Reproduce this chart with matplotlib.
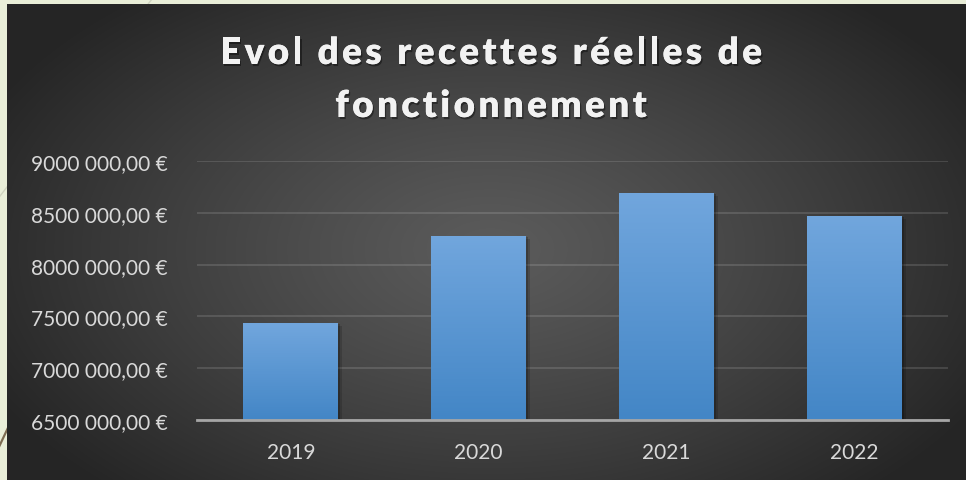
import numpy as np
import matplotlib
matplotlib.use('Agg')
import matplotlib.pyplot as plt
import matplotlib.patheffects as pe
from matplotlib.transforms import IdentityTransform
from matplotlib.font_manager import FontProperties

# data
years = ['2019', '2020', '2021', '2022']
recettes = [7436000, 8276000, 8691000, 8469000]
y_ticks = [6500000, 7000000, 7500000, 8000000, 8500000, 9000000]
title_lines = ['Evol des recettes réelles de', 'fonctionnement']

W, H = 966, 481
fig = plt.figure(figsize=(W / 100, H / 100), dpi=100, facecolor='#e9eed8')

# slide background: decorative lines + dark panel with radial gradient
bg = fig.add_axes([0, 0, 1, 1])
bg.axis('off')
bg.plot([152, -10], [0, 210], color='#cfd3bf', lw=1)
bg.plot([-2, 14], [450, 416], color='#7d6c52', lw=1.6)
yy, xx = np.mgrid[5:H, 7:W]
r = np.sqrt(((xx - 490) / 560.0) ** 2 + ((yy - 250) / 330.0) ** 2)
r = np.clip(r, 0, 1) ** 1.2
c_in = np.array([0x5b, 0x5b, 0x5b]) / 255
c_out = np.array([0x25, 0x25, 0x25]) / 255
panel = c_in + (c_out - c_in) * r[..., None]
bg.imshow(panel, extent=(7, W, H, 5), aspect='auto', zorder=2)
bg.set_xlim(0, W)
bg.set_ylim(H, 0)

# chart
ax = fig.add_axes([197 / W, (H - 421) / H, (948 - 197) / W, (421 - 162) / H])
ax.patch.set_alpha(0)
x = np.arange(len(years))
bars = ax.bar(x, recettes, width=0.505, color='#5b9bd5', zorder=3,
              path_effects=[pe.SimplePatchShadow(offset=(3, -2), shadow_rgbFace='black', alpha=0.15),
                            pe.SimplePatchShadow(offset=(1.5, -1), shadow_rgbFace='black', alpha=0.2),
                            pe.Normal()])

grad = np.linspace(0, 1, 100)[:, None]
top_c = np.array([0x71, 0xa6, 0xdd]) / 255
bot_c = np.array([0x43, 0x86, 0xc6]) / 255
grad_img = top_c + (bot_c - top_c) * grad[..., None]
for b in bars:
    x0 = b.get_x()
    im = ax.imshow(grad_img, extent=(x0, x0 + b.get_width(), 6500000, b.get_height()),
                   aspect='auto', zorder=4)
    im.set_clip_path(b)

ax.set_xlim(-0.5, 3.5)
ax.set_ylim(6500000, 9000000)
ax.set_xticks(x)
ax.set_xticklabels(years)
ax.set_yticks(y_ticks)
ax.set_yticklabels([f"{v // 1000} {v % 1000:03d},00 €" for v in y_ticks])
lab_font = FontProperties(family='Lato', size=15)
for t in ax.get_xticklabels() + ax.get_yticklabels():
    t.set_fontproperties(lab_font)
    t.set_color('#d9d9d9')
ax.tick_params(axis='y', length=0, pad=21)
ax.tick_params(axis='x', length=0, pad=16)
ax.grid(axis='y', color='white', alpha=0.13, lw=1.4, zorder=0)
for s in ['top', 'right', 'left']:
    ax.spines[s].set_visible(False)
ax.spines['bottom'].set_color('#a6a6a6')
ax.spines['bottom'].set_linewidth(2)
ax.spines['bottom'].set_zorder(5)

# title with letter spacing
renderer = fig.canvas.get_renderer()
title_font = FontProperties(family='Lato', weight='heavy', size=26.5)


def text_w(s):
    return renderer.get_text_width_height_descent(s, title_font, ismath=False)[0]


def advance(c):
    return text_w('l' + c + 'l') - text_w('ll')


adv1 = [advance(c) for c in title_lines[0]]
track = (542 - sum(adv1)) / (len(title_lines[0]) - 1)
shadow = [pe.withSimplePatchShadow(offset=(1, -1.5), shadow_rgbFace='black', alpha=0.4), pe.Normal()]
for line, base in zip(title_lines, [416, 363]):
    advs = [advance(c) for c in line]
    total = sum(advs) + track * (len(line) - 1)
    xp = 491 - total / 2
    for c, a in zip(line, advs):
        if c != ' ':
            fig.text(xp, base, c, transform=IdentityTransform(), fontproperties=title_font,
                     color='#f2f2f2', ha='left', va='baseline', path_effects=shadow)
        xp += a + track

fig.savefig('out.png', dpi=100, facecolor=fig.get_facecolor())
